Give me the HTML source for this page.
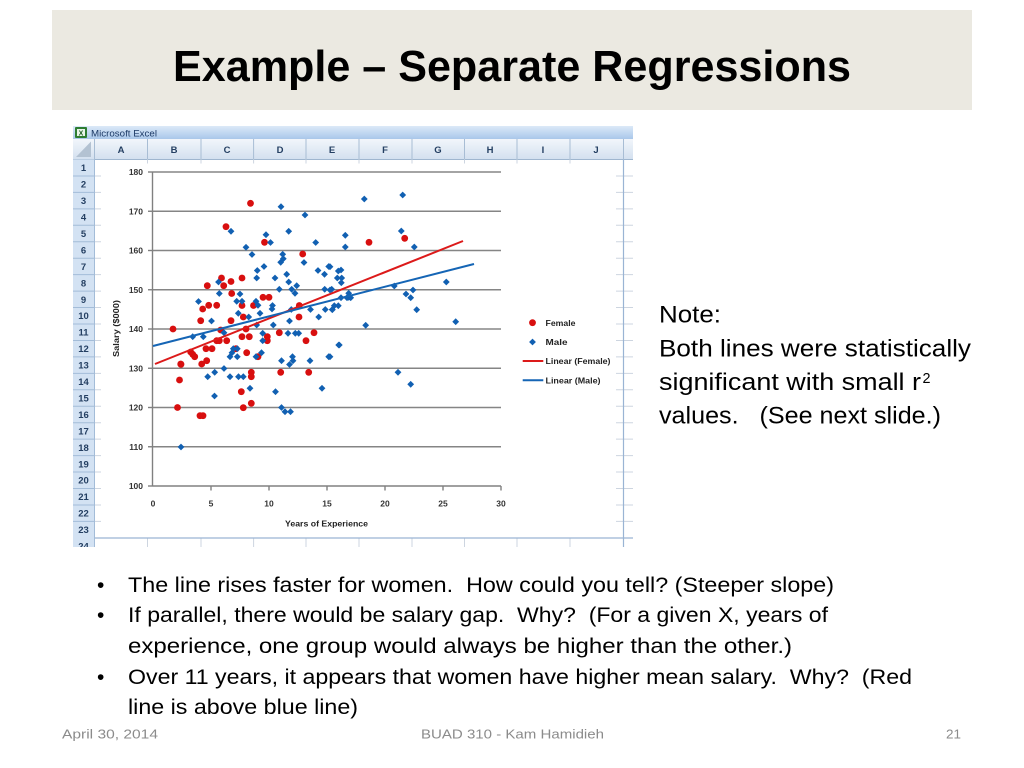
<!DOCTYPE html>
<html><head><meta charset="utf-8"><style>
html,body{margin:0;padding:0;background:#fff;}
svg{display:block;}
text{white-space:pre;}
</style></head><body>
<svg width="1024" height="768" viewBox="0 0 1024 768" xmlns="http://www.w3.org/2000/svg">
<defs>
<linearGradient id="tb" x1="0" y1="0" x2="0" y2="1"><stop offset="0" stop-color="#dce9f8"/><stop offset="1" stop-color="#a9c7ea"/></linearGradient>
<linearGradient id="ch" x1="0" y1="0" x2="0" y2="1"><stop offset="0" stop-color="#f2f6fb"/><stop offset="1" stop-color="#d3e0ef"/></linearGradient>
<clipPath id="xl"><rect x="73" y="118" width="560" height="429"/></clipPath>
<path id="d" d="M0,-3.4 L3.4,0 L0,3.4 L-3.4,0 Z" fill="#1160b2"/>
<circle id="c" r="3.4" fill="#d80f0f"/>
</defs>
<rect width="1024" height="768" fill="#fff"/>
<!-- Title box -->
<rect x="52" y="10" width="920" height="100" fill="#ebe9e1"/>
<text x="173" y="81" font-family="Liberation Sans, sans-serif" font-weight="bold" font-size="44" fill="#000" textLength="678" lengthAdjust="spacingAndGlyphs">Example – Separate Regressions</text>

<!-- Excel window -->
<g clip-path="url(#xl)">
<rect x="73" y="118" width="560" height="429" fill="#fff"/>
<!-- title bar -->
<rect x="73" y="126" width="560" height="13" fill="url(#tb)"/>
<rect x="75" y="127" width="12" height="11" fill="#2e7d32" rx="1"/>
<rect x="77" y="129" width="8" height="7" fill="#e8f5e9"/>
<text x="81" y="135.5" font-family="Liberation Sans, sans-serif" font-weight="bold" font-size="7" fill="#1b5e20" text-anchor="middle">X</text>
<text x="91" y="136.5" font-family="Liberation Sans, sans-serif" font-size="9.5" fill="#1d3a66" textLength="66" lengthAdjust="spacingAndGlyphs">Microsoft Excel</text>
<!-- column header -->
<rect x="73" y="139" width="560" height="20.5" fill="url(#ch)"/>
<line x1="73" y1="159.5" x2="633" y2="159.5" stroke="#9fb6cf" stroke-width="1"/>
<polygon points="91,141.5 91,157 76,157" fill="#b3c2d2"/>
<g stroke="#a8bdd4" stroke-width="1">
<line x1="94.5" y1="139" x2="94.5" y2="159.5"/>
<line x1="147.5" y1="139" x2="147.5" y2="159.5"/>
<line x1="201" y1="139" x2="201" y2="159.5"/>
<line x1="253.6" y1="139" x2="253.6" y2="159.5"/>
<line x1="306" y1="139" x2="306" y2="159.5"/>
<line x1="359" y1="139" x2="359" y2="159.5"/>
<line x1="412" y1="139" x2="412" y2="159.5"/>
<line x1="464.5" y1="139" x2="464.5" y2="159.5"/>
<line x1="517" y1="139" x2="517" y2="159.5"/>
<line x1="570" y1="139" x2="570" y2="159.5"/>
<line x1="623.5" y1="139" x2="623.5" y2="159.5"/>
</g>
<g font-family="Liberation Sans, sans-serif" font-weight="bold" font-size="9.5" fill="#243f62" text-anchor="middle">
<text x="121" y="153">A</text><text x="174" y="153">B</text><text x="227" y="153">C</text><text x="280" y="153">D</text><text x="332" y="153">E</text><text x="385" y="153">F</text><text x="438" y="153">G</text><text x="490" y="153">H</text><text x="543" y="153">I</text><text x="596" y="153">J</text>
</g>
<!-- cell gridlines (visible at margins) -->
<g stroke="#cdd5e0" stroke-width="1">
<line x1="94.5" y1="175.95" x2="633" y2="175.95"/><line x1="94.5" y1="192.4" x2="633" y2="192.4"/><line x1="94.5" y1="208.85" x2="633" y2="208.85"/><line x1="94.5" y1="225.3" x2="633" y2="225.3"/><line x1="94.5" y1="241.75" x2="633" y2="241.75"/><line x1="94.5" y1="258.2" x2="633" y2="258.2"/><line x1="94.5" y1="274.65" x2="633" y2="274.65"/><line x1="94.5" y1="291.1" x2="633" y2="291.1"/><line x1="94.5" y1="307.55" x2="633" y2="307.55"/><line x1="94.5" y1="324" x2="633" y2="324"/><line x1="94.5" y1="340.45" x2="633" y2="340.45"/><line x1="94.5" y1="356.9" x2="633" y2="356.9"/><line x1="94.5" y1="373.35" x2="633" y2="373.35"/><line x1="94.5" y1="389.8" x2="633" y2="389.8"/><line x1="94.5" y1="406.25" x2="633" y2="406.25"/><line x1="94.5" y1="422.7" x2="633" y2="422.7"/><line x1="94.5" y1="439.15" x2="633" y2="439.15"/><line x1="94.5" y1="455.6" x2="633" y2="455.6"/><line x1="94.5" y1="472.05" x2="633" y2="472.05"/><line x1="94.5" y1="488.5" x2="633" y2="488.5"/><line x1="94.5" y1="504.95" x2="633" y2="504.95"/><line x1="94.5" y1="521.4" x2="633" y2="521.4"/>
<line x1="147.5" y1="159.5" x2="147.5" y2="547"/><line x1="201" y1="159.5" x2="201" y2="547"/><line x1="253.6" y1="159.5" x2="253.6" y2="547"/><line x1="306" y1="159.5" x2="306" y2="547"/><line x1="359" y1="159.5" x2="359" y2="547"/><line x1="412" y1="159.5" x2="412" y2="547"/><line x1="464.5" y1="159.5" x2="464.5" y2="547"/><line x1="517" y1="159.5" x2="517" y2="547"/><line x1="570" y1="159.5" x2="570" y2="547"/>
</g>
<!-- chart object -->
<rect x="101" y="163.5" width="515" height="374" fill="#fff"/>
<!-- bottom row 24 line & right column line -->
<line x1="73" y1="538" x2="633" y2="538" stroke="#9ab4d4" stroke-width="1.2"/>
<line x1="623.5" y1="159.5" x2="623.5" y2="547" stroke="#9ab4d4" stroke-width="1.2"/>
<!-- row headers -->
<rect x="73" y="159.5" width="21.5" height="390" fill="#d3e2f3"/>
<g stroke="#a3bcd8" stroke-width="1">
<line x1="73" y1="175.95" x2="94.5" y2="175.95"/><line x1="73" y1="192.4" x2="94.5" y2="192.4"/><line x1="73" y1="208.85" x2="94.5" y2="208.85"/><line x1="73" y1="225.3" x2="94.5" y2="225.3"/><line x1="73" y1="241.75" x2="94.5" y2="241.75"/><line x1="73" y1="258.2" x2="94.5" y2="258.2"/><line x1="73" y1="274.65" x2="94.5" y2="274.65"/><line x1="73" y1="291.1" x2="94.5" y2="291.1"/><line x1="73" y1="307.55" x2="94.5" y2="307.55"/><line x1="73" y1="324" x2="94.5" y2="324"/><line x1="73" y1="340.45" x2="94.5" y2="340.45"/><line x1="73" y1="356.9" x2="94.5" y2="356.9"/><line x1="73" y1="373.35" x2="94.5" y2="373.35"/><line x1="73" y1="389.8" x2="94.5" y2="389.8"/><line x1="73" y1="406.25" x2="94.5" y2="406.25"/><line x1="73" y1="422.7" x2="94.5" y2="422.7"/><line x1="73" y1="439.15" x2="94.5" y2="439.15"/><line x1="73" y1="455.6" x2="94.5" y2="455.6"/><line x1="73" y1="472.05" x2="94.5" y2="472.05"/><line x1="73" y1="488.5" x2="94.5" y2="488.5"/><line x1="73" y1="504.95" x2="94.5" y2="504.95"/><line x1="73" y1="521.4" x2="94.5" y2="521.4"/>
<line x1="94.5" y1="159.5" x2="94.5" y2="547"/>
</g>
<g font-family="Liberation Sans, sans-serif" font-weight="bold" font-size="9.5" fill="#243f62" text-anchor="middle">
<text x="83.5" y="171.2">1</text><text x="83.5" y="187.6">2</text><text x="83.5" y="204.1">3</text><text x="83.5" y="220.5">4</text><text x="83.5" y="237">5</text><text x="83.5" y="253.4">6</text><text x="83.5" y="269.9">7</text><text x="83.5" y="286.3">8</text><text x="83.5" y="302.8">9</text><text x="83.5" y="319.2">10</text><text x="83.5" y="335.7">11</text><text x="83.5" y="352.1">12</text><text x="83.5" y="368.6">13</text><text x="83.5" y="385">14</text><text x="83.5" y="401.5">15</text><text x="83.5" y="417.9">16</text><text x="83.5" y="434.4">17</text><text x="83.5" y="450.8">18</text><text x="83.5" y="467.3">19</text><text x="83.5" y="483.7">20</text><text x="83.5" y="500.2">21</text><text x="83.5" y="516.6">22</text><text x="83.5" y="533.1">23</text><text x="83.5" y="549.5">24</text>
</g>

<!-- Chart: gridlines -->
<g stroke="#858585" stroke-width="1.4">
<line x1="152.5" y1="172" x2="501" y2="172"/>
<line x1="152.5" y1="211.25" x2="501" y2="211.25"/>
<line x1="152.5" y1="250.5" x2="501" y2="250.5"/>
<line x1="152.5" y1="289.75" x2="501" y2="289.75"/>
<line x1="152.5" y1="329" x2="501" y2="329"/>
<line x1="152.5" y1="368.25" x2="501" y2="368.25"/>
<line x1="152.5" y1="407.5" x2="501" y2="407.5"/>
<line x1="152.5" y1="446.75" x2="501" y2="446.75"/>
</g>
<g stroke="#808080" stroke-width="1.4">
<line x1="152.5" y1="172" x2="152.5" y2="486"/>
<line x1="152.5" y1="486" x2="501" y2="486"/>
<line x1="148" y1="172" x2="152.5" y2="172"/><line x1="148" y1="211.25" x2="152.5" y2="211.25"/><line x1="148" y1="250.5" x2="152.5" y2="250.5"/><line x1="148" y1="289.75" x2="152.5" y2="289.75"/><line x1="148" y1="329" x2="152.5" y2="329"/><line x1="148" y1="368.25" x2="152.5" y2="368.25"/><line x1="148" y1="407.5" x2="152.5" y2="407.5"/><line x1="148" y1="446.75" x2="152.5" y2="446.75"/><line x1="148" y1="486" x2="152.5" y2="486"/>
<line x1="211" y1="486" x2="211" y2="490.5"/><line x1="269" y1="486" x2="269" y2="490.5"/><line x1="327" y1="486" x2="327" y2="490.5"/><line x1="385" y1="486" x2="385" y2="490.5"/><line x1="443" y1="486" x2="443" y2="490.5"/><line x1="501" y1="486" x2="501" y2="490.5"/>
</g>
<g font-family="Liberation Sans, sans-serif" font-weight="bold" font-size="8.5" fill="#333" text-anchor="end">
<text x="143" y="175">180</text><text x="143" y="214.3">170</text><text x="143" y="253.5">160</text><text x="143" y="292.8">150</text><text x="143" y="332">140</text><text x="143" y="371.3">130</text><text x="143" y="410.5">120</text><text x="143" y="449.8">110</text><text x="143" y="489">100</text>
</g>
<g font-family="Liberation Sans, sans-serif" font-weight="bold" font-size="8.5" fill="#333" text-anchor="middle">
<text x="153" y="506.5">0</text><text x="211" y="506.5">5</text><text x="269" y="506.5">10</text><text x="327" y="506.5">15</text><text x="385" y="506.5">20</text><text x="443" y="506.5">25</text><text x="501" y="506.5">30</text>
</g>
<text x="285" y="526.5" font-family="Liberation Sans, sans-serif" font-weight="bold" font-size="8.5" fill="#222" textLength="83" lengthAdjust="spacingAndGlyphs">Years of Experience</text>
<text transform="translate(119,357) rotate(-90)" font-family="Liberation Sans, sans-serif" font-weight="bold" font-size="8" fill="#222" textLength="57" lengthAdjust="spacingAndGlyphs">Salary ($000)</text>

<!-- Female points -->
<g>
<use href="#c" x="173" y="329"/><use href="#c" x="177.5" y="407.5"/><use href="#c" x="179.5" y="380"/><use href="#c" x="181" y="364.3"/>
<use href="#c" x="200.7" y="320.7"/><use href="#c" x="202.7" y="309"/><use href="#c" x="208.7" y="305.3"/><use href="#c" x="216.7" y="305.3"/>
<use href="#c" x="207.3" y="285.7"/><use href="#c" x="221.5" y="278"/><use href="#c" x="223.7" y="285.7"/><use href="#c" x="231" y="281.5"/>
<use href="#c" x="242" y="278"/><use href="#c" x="231.7" y="293.5"/><use href="#c" x="226" y="226.7"/><use href="#c" x="250.5" y="203.3"/>
<use href="#c" x="264.5" y="242.3"/><use href="#c" x="302.7" y="254"/><use href="#c" x="263" y="297.3"/><use href="#c" x="269" y="297.3"/>
<use href="#c" x="242" y="305.5"/><use href="#c" x="253.5" y="305.5"/><use href="#c" x="299.3" y="305.5"/><use href="#c" x="299" y="317"/>
<use href="#c" x="243.3" y="317"/><use href="#c" x="231" y="320.7"/><use href="#c" x="220.7" y="330"/><use href="#c" x="246" y="329"/>
<use href="#c" x="279.3" y="332.7"/><use href="#c" x="314" y="332.7"/><use href="#c" x="267.3" y="336.7"/><use href="#c" x="267.3" y="340.7"/>
<use href="#c" x="242" y="336.7"/><use href="#c" x="249.3" y="336.7"/><use href="#c" x="216.7" y="340.7"/><use href="#c" x="219.3" y="340.7"/>
<use href="#c" x="226.7" y="340.7"/><use href="#c" x="306" y="340.7"/><use href="#c" x="206" y="348.7"/><use href="#c" x="212" y="348.7"/>
<use href="#c" x="236" y="348.7"/><use href="#c" x="190.7" y="352"/><use href="#c" x="192.7" y="354.3"/><use href="#c" x="194.7" y="356.7"/>
<use href="#c" x="246.7" y="352.7"/><use href="#c" x="258" y="356.7"/><use href="#c" x="206.7" y="360.7"/><use href="#c" x="201.7" y="364"/>
<use href="#c" x="180.7" y="364"/><use href="#c" x="280.7" y="372.3"/><use href="#c" x="308.7" y="372.3"/><use href="#c" x="251.3" y="372.3"/>
<use href="#c" x="251.3" y="376.7"/><use href="#c" x="241.3" y="391.7"/><use href="#c" x="251.3" y="403.3"/><use href="#c" x="243.3" y="407.7"/>
<use href="#c" x="200" y="415.7"/><use href="#c" x="203" y="415.7"/><use href="#c" x="369" y="242.3"/><use href="#c" x="404.7" y="238.3"/>
</g>
<!-- Male points -->
<g>
<use href="#d" x="181" y="447"/><use href="#d" x="214.5" y="396"/><use href="#d" x="224" y="368.5"/><use href="#d" x="230" y="356.7"/>
<use href="#d" x="237.3" y="356.7"/><use href="#d" x="214.7" y="372.3"/><use href="#d" x="207.7" y="376.7"/><use href="#d" x="230" y="376.7"/>
<use href="#d" x="238.5" y="376.7"/><use href="#d" x="243.3" y="376.7"/><use href="#d" x="250" y="388.3"/><use href="#d" x="261.5" y="352.7"/>
<use href="#d" x="275.5" y="391.7"/><use href="#d" x="281.5" y="360.7"/><use href="#d" x="281.5" y="407.5"/><use href="#d" x="285" y="411.7"/>
<use href="#d" x="290.5" y="411.7"/><use href="#d" x="292.5" y="356.7"/><use href="#d" x="293" y="360.7"/><use href="#d" x="289.5" y="364.5"/>
<use href="#d" x="310" y="360.7"/><use href="#d" x="322" y="388.3"/><use href="#d" x="328.7" y="356.7"/>
<use href="#d" x="192.7" y="336.7"/><use href="#d" x="203.3" y="336.7"/><use href="#d" x="224" y="332.7"/><use href="#d" x="262.7" y="333.3"/>
<use href="#d" x="262.7" y="340.7"/><use href="#d" x="288" y="333.3"/><use href="#d" x="295.3" y="333.3"/><use href="#d" x="298.7" y="333.3"/>
<use href="#d" x="338.7" y="345"/><use href="#d" x="233.3" y="348.7"/><use href="#d" x="237.3" y="348.7"/><use href="#d" x="232" y="352.7"/>
<use href="#d" x="256" y="356.7"/><use href="#d" x="211.5" y="321"/><use href="#d" x="289.5" y="321"/><use href="#d" x="273.3" y="325"/>
<use href="#d" x="256.7" y="325"/><use href="#d" x="318.7" y="317"/>
<use href="#d" x="281" y="206.7"/><use href="#d" x="305" y="215"/><use href="#d" x="231" y="231.3"/><use href="#d" x="266" y="234.7"/>
<use href="#d" x="288.7" y="231.3"/><use href="#d" x="270.5" y="242.5"/><use href="#d" x="315.7" y="242.5"/><use href="#d" x="246" y="247.3"/>
<use href="#d" x="252" y="254.5"/><use href="#d" x="282.7" y="254.3"/><use href="#d" x="283.3" y="258.7"/><use href="#d" x="280.7" y="262.3"/>
<use href="#d" x="304" y="262.5"/><use href="#d" x="264" y="266.5"/><use href="#d" x="257.3" y="270.5"/><use href="#d" x="318" y="270.5"/>
<use href="#d" x="324.5" y="274.3"/><use href="#d" x="328.7" y="266.5"/><use href="#d" x="338.3" y="271"/><use href="#d" x="286.7" y="274.3"/>
<use href="#d" x="256.7" y="278"/><use href="#d" x="275" y="278"/><use href="#d" x="288.7" y="282"/><use href="#d" x="296.7" y="285.7"/>
<use href="#d" x="218.5" y="282"/><use href="#d" x="240" y="294"/><use href="#d" x="219.3" y="293.5"/><use href="#d" x="279.3" y="289.3"/>
<use href="#d" x="291.7" y="289.3"/><use href="#d" x="295" y="293.3"/><use href="#d" x="324.7" y="289.3"/><use href="#d" x="331.7" y="289.3"/>
<use href="#d" x="236.7" y="301.3"/><use href="#d" x="242" y="301.3"/><use href="#d" x="198.5" y="301.5"/><use href="#d" x="256" y="301.3"/>
<use href="#d" x="258" y="305.3"/><use href="#d" x="272.5" y="305.5"/><use href="#d" x="272" y="309"/><use href="#d" x="291.3" y="309.5"/>
<use href="#d" x="310.5" y="309.5"/><use href="#d" x="325.3" y="309.5"/><use href="#d" x="332.3" y="309.5"/><use href="#d" x="238.3" y="313.3"/>
<use href="#d" x="248.7" y="317"/><use href="#d" x="260" y="313.3"/><use href="#d" x="334.3" y="305.7"/><use href="#d" x="338.3" y="305.7"/>
<use href="#d" x="348.7" y="297.3"/><use href="#d" x="348.7" y="293.3"/><use href="#d" x="345.3" y="235.3"/><use href="#d" x="345.3" y="247"/>
<use href="#d" x="341.3" y="282.7"/>
<use href="#d" x="364.3" y="199"/><use href="#d" x="402.7" y="195"/><use href="#d" x="401.3" y="231"/><use href="#d" x="414.3" y="247"/>
<use href="#d" x="330" y="266.7"/><use href="#d" x="341" y="270"/><use href="#d" x="337.3" y="278"/><use href="#d" x="341.7" y="278"/>
<use href="#d" x="330" y="290"/><use href="#d" x="341" y="297.7"/><use href="#d" x="347" y="297.7"/><use href="#d" x="350.7" y="297.7"/>
<use href="#d" x="332.3" y="309.7"/><use href="#d" x="394.3" y="286"/><use href="#d" x="406" y="294"/><use href="#d" x="410.7" y="297.7"/>
<use href="#d" x="413" y="290"/><use href="#d" x="416.7" y="309.7"/><use href="#d" x="446.3" y="282"/><use href="#d" x="365.7" y="325.3"/>
<use href="#d" x="455.7" y="321.7"/><use href="#d" x="339.3" y="345"/><use href="#d" x="330" y="356.7"/><use href="#d" x="398" y="372.3"/>
<use href="#d" x="410.7" y="384.3"/>
</g>
<!-- Trend lines -->
<line x1="155" y1="364" x2="463" y2="241" stroke="#dc1a1a" stroke-width="2"/>
<line x1="153" y1="346" x2="474" y2="264" stroke="#1565b5" stroke-width="2"/>
<!-- Legend -->
<use href="#c" x="532.5" y="322.7"/>
<use href="#d" x="532.5" y="342"/>
<line x1="522.7" y1="361" x2="543.3" y2="361" stroke="#dc1a1a" stroke-width="2"/>
<line x1="522.7" y1="380.3" x2="543.3" y2="380.3" stroke="#1565b5" stroke-width="2"/>
<g font-family="Liberation Sans, sans-serif" font-weight="bold" font-size="8" fill="#222">
<text x="545.5" y="325.8" textLength="30" lengthAdjust="spacingAndGlyphs">Female</text>
<text x="545.5" y="345" textLength="22" lengthAdjust="spacingAndGlyphs">Male</text>
<text x="545.5" y="364" textLength="65" lengthAdjust="spacingAndGlyphs">Linear (Female)</text>
<text x="545.5" y="383.3" textLength="55" lengthAdjust="spacingAndGlyphs">Linear (Male)</text>
</g>
</g>

<!-- Note -->
<g font-family="Liberation Sans, sans-serif" font-size="24.5" fill="#000">
<text x="659" y="322.5" textLength="62" lengthAdjust="spacingAndGlyphs">Note:</text>
<text x="659" y="356.5" textLength="312" lengthAdjust="spacingAndGlyphs">Both lines were statistically</text>
<text x="659" y="390" textLength="262" lengthAdjust="spacingAndGlyphs">significant with small r</text>
<text x="922.5" y="383" font-size="15" textLength="8" lengthAdjust="spacingAndGlyphs">2</text>
<text x="659" y="423.5" textLength="282" lengthAdjust="spacingAndGlyphs">values.   (See next slide.)</text>
</g>

<!-- Bullets -->
<g font-family="Liberation Sans, sans-serif" font-size="21" fill="#000">
<text x="97" y="592">•</text>
<text x="97" y="622">•</text>
<text x="97" y="684">•</text>
<text x="128" y="592" textLength="706" lengthAdjust="spacingAndGlyphs">The line rises faster for women.  How could you tell? (Steeper slope)</text>
<text x="128" y="622" textLength="700" lengthAdjust="spacingAndGlyphs">If parallel, there would be salary gap.  Why?  (For a given X, years of</text>
<text x="128" y="653" textLength="664" lengthAdjust="spacingAndGlyphs">experience, one group would always be higher than the other.)</text>
<text x="128" y="684" textLength="784" lengthAdjust="spacingAndGlyphs">Over 11 years, it appears that women have higher mean salary.  Why?  (Red</text>
<text x="128" y="714" textLength="230" lengthAdjust="spacingAndGlyphs">line is above blue line)</text>
</g>

<!-- Footer -->
<g font-family="Liberation Sans, sans-serif" font-size="13" fill="#8b8b8b">
<text x="62" y="738.5" textLength="96" lengthAdjust="spacingAndGlyphs">April 30, 2014</text>
<text x="421" y="738.5" textLength="183" lengthAdjust="spacingAndGlyphs">BUAD 310 - Kam Hamidieh</text>
<text x="946" y="738.5" textLength="15" lengthAdjust="spacingAndGlyphs">21</text>
</g>
</svg>
</body></html>
